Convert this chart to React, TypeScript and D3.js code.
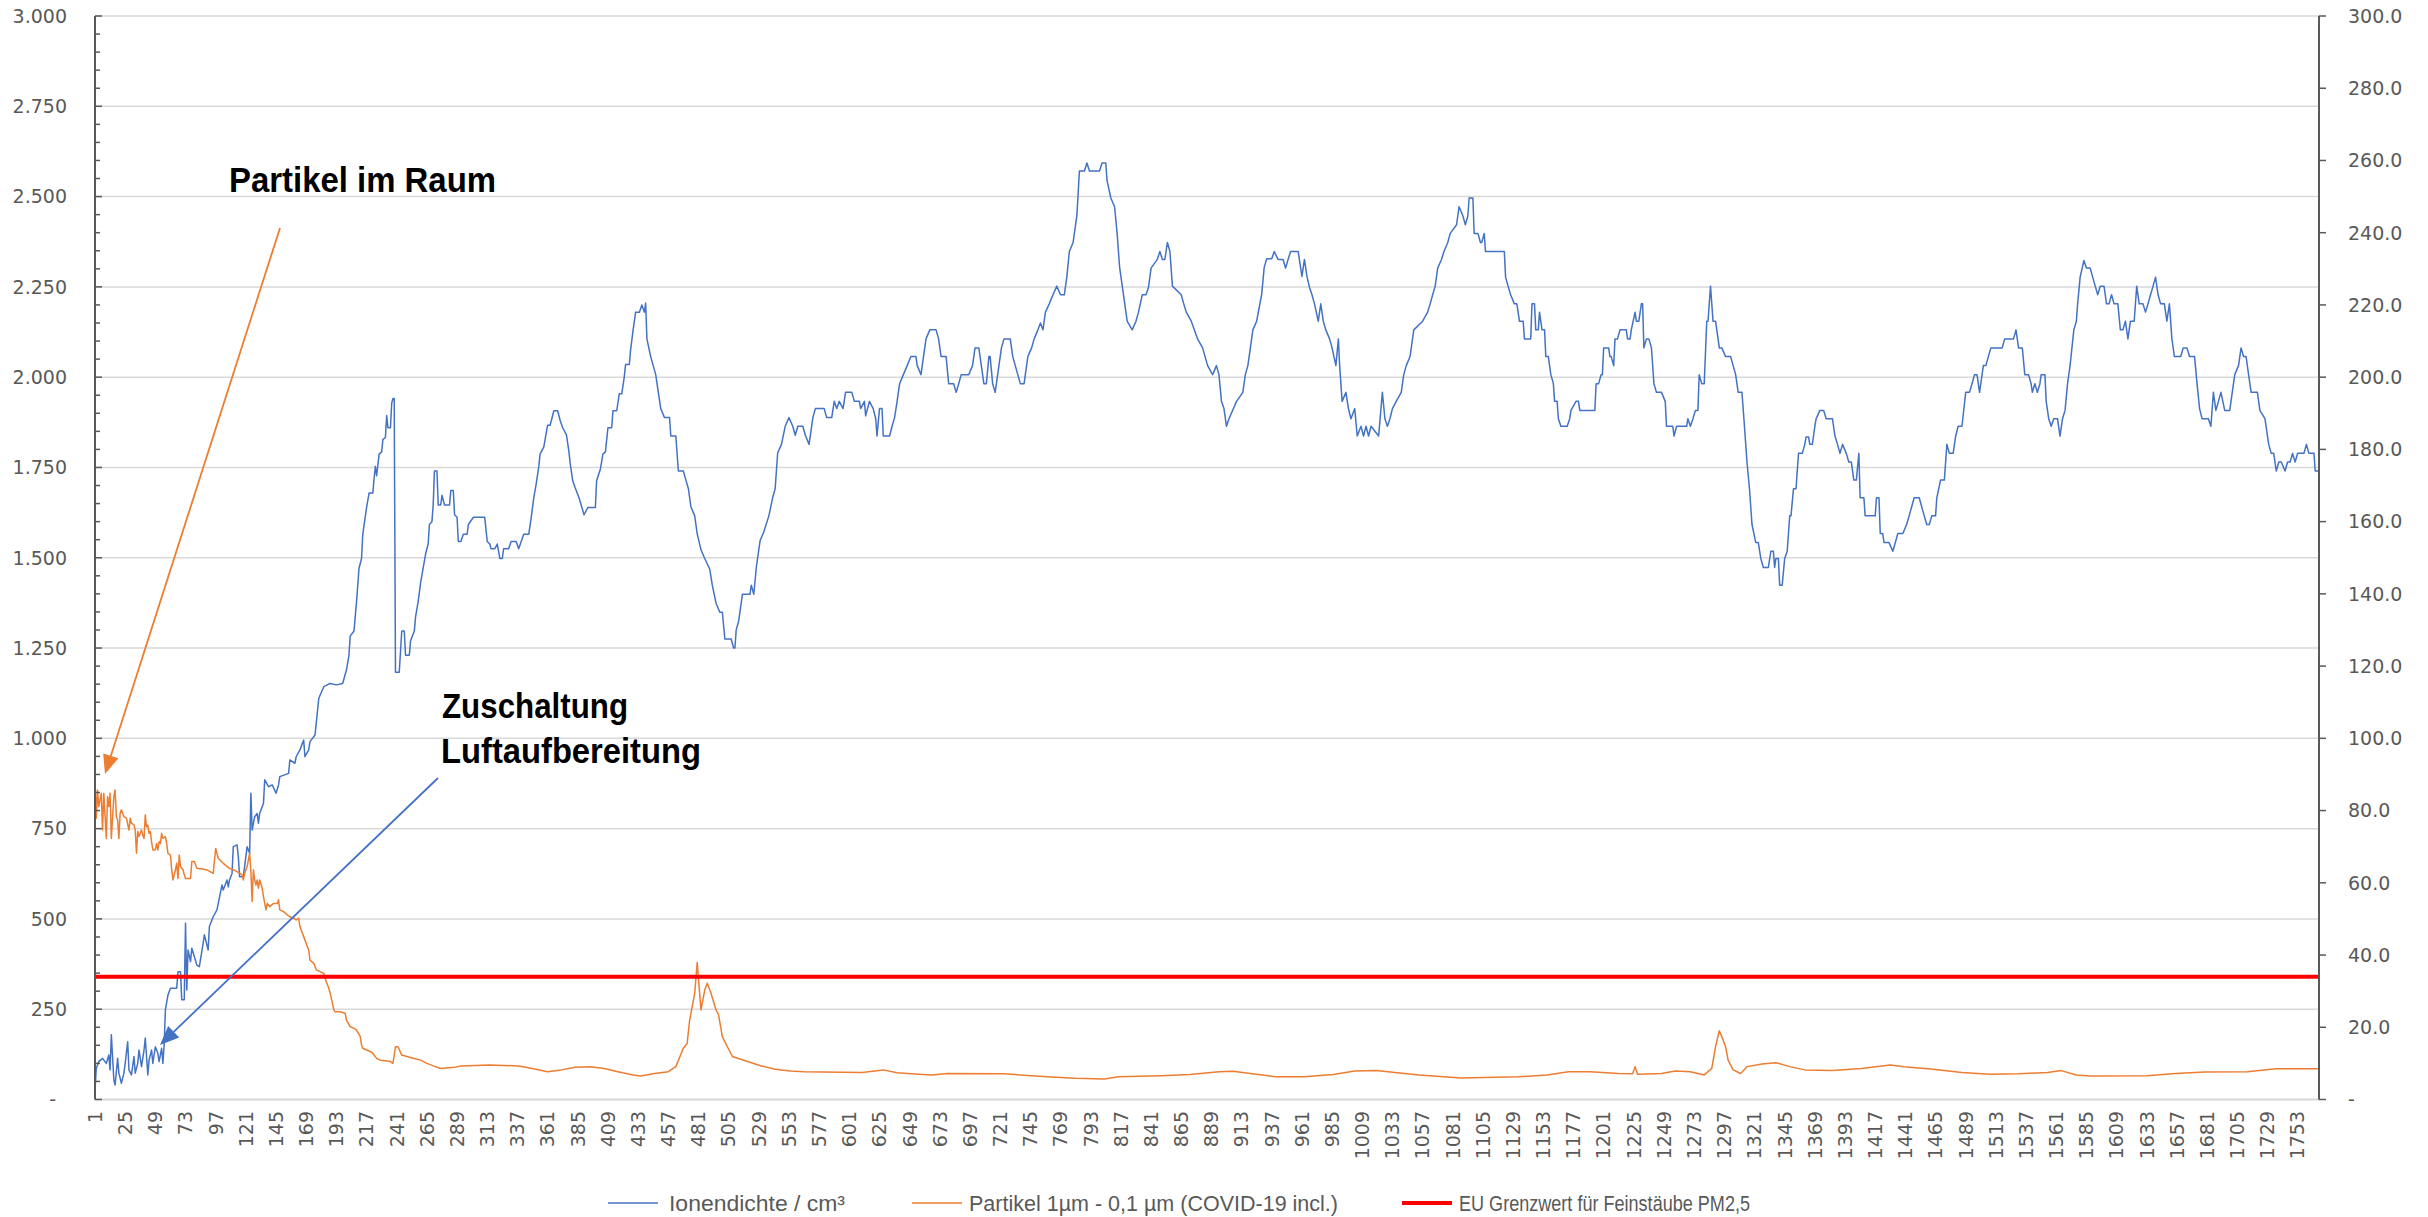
import React from 'react';
import * as d3 from 'd3';

// ---------- DATA ----------
const leftTicks = [0, 250, 500, 750, 1000, 1250, 1500, 1750, 2000, 2250, 2500, 2750, 3000];
const leftTickLabels = ['-', '250', '500', '750', '1.000', '1.250', '1.500', '1.750', '2.000', '2.250', '2.500', '2.750', '3.000'];
const rightTicks = [0, 20, 40, 60, 80, 100, 120, 140, 160, 180, 200, 220, 240, 260, 280, 300];
const rightTickLabels = ['-', '20.0', '40.0', '60.0', '80.0', '100.0', '120.0', '140.0', '160.0', '180.0', '200.0', '220.0', '240.0', '260.0', '280.0', '300.0'];
const xTickLabels = [1, 25, 49, 73, 97, 121, 145, 169, 193, 217, 241, 265, 289, 313, 337, 361, 385, 409, 433, 457, 481, 505, 529, 553, 577, 601, 625, 649, 673, 697, 721, 745, 769, 793, 817, 841, 865, 889, 913, 937, 961, 985, 1009, 1033, 1057, 1081, 1105, 1129, 1153, 1177, 1201, 1225, 1249, 1273, 1297, 1321, 1345, 1369, 1393, 1417, 1441, 1465, 1489, 1513, 1537, 1561, 1585, 1609, 1633, 1657, 1681, 1705, 1729, 1753];
const categoryCount = 1770;

// Ionendichte / cm³ (left axis) as [measurement index, value]
const ionDensity: [number, number][] = [
  [1,26],[2,86],[4,105],[7,114],[10,100],[12,123],[13,82],[14,179],[16,54],[17,40],[19,114],[20,73],[22,45],[24,73],[25,100],[27,160],[28,82],[30,68],[32,119],[33,73],[35,100],[36,137],[38,91],[40,137],[41,170],[43,68],[44,109],[46,137],[47,100],[49,146],[51,128],[52,105],[54,142],[55,100],[56,151],
  [57,248],[59,289],[61,308],[66,308],[67,354],[69,354],[70,276],[72,276],[73,488],[74,303],[75,414],[77,382],[78,419],[80,396],[82,372],[84,368],[87,432],[88,456],[91,414],[92,479],[95,506],[98,525],[102,594],[103,580],[106,608],[107,589],[108,608],[110,626],[111,700],[114,705],[115,672],[116,617],[119,617],[122,700],[124,682],[125,848],[126,746],[128,783],[130,792],[131,765],[132,792],[135,820],[136,885],[139,866],[142,871],[145,848],[147,871],[148,894],[155,903],[156,940],[160,931],[161,949],[164,968],[167,995],[168,949],[171,968],[172,991],[176,1009],[179,1111],[183,1143],[188,1152],[193,1148],[198,1152],
  [201,1189],[203,1230],[204,1283],[207,1297],[209,1377],[211,1471],[213,1498],[214,1565],[217,1639],[219,1679],[222,1679],[223,1720],[224,1753],[225,1727],[227,1787],[229,1793],[230,1827],[232,1833],[233,1894],[234,1860],[236,1860],[237,1928],[238,1941],[239,1941],[240,1183],[243,1183],[245,1297],[247,1297],[248,1230],[251,1230],[252,1270],[255,1297],[256,1337],[258,1377],[260,1431],[262,1471],[264,1511],[266,1538],[267,1592],[269,1600],[270,1646],[271,1740],[273,1740],[274,1646],[276,1646],[277,1673],[279,1646],[283,1646],[284,1686],[286,1686],[287,1619],[289,1612],[290,1545],[292,1545],[294,1565],[297,1565],[298,1592],[302,1612],[311,1612],[313,1545],[315,1538],[316,1525],[319,1525],[321,1538],[323,1498],[325,1498],[326,1525],[330,1525],[332,1545],[336,1545],[338,1525],[340,1545],[342,1565],[346,1565],[348,1612],[350,1666],[352,1706],[354,1753],[355,1787],[358,1807],[361,1867],[363,1867],[366,1907],[369,1907],[371,1880],[373,1860],[376,1840],[378,1793],[379,1760],[381,1713],[383,1693],[386,1666],[390,1619],[393,1639],[399,1639],[400,1713],[403,1746],[405,1787],[407,1793],[409,1860],[412,1860],[413,1907],[416,1907],[418,1954],[420,1954],[422,2001],[423,2035],[426,2035],[427,2075],[429,2130],[431,2180],
  [434,2180],[436,2200],[438,2180],[439,2205],[440,2106],[443,2057],[445,2032],[447,2007],[451,1913],[454,1888],[458,1888],[459,1837],[463,1837],[465,1740],[469,1740],[471,1715],[473,1691],[475,1641],[478,1616],[480,1567],[483,1522],[486,1498],[490,1468],[492,1424],[495,1374],[498,1349],[500,1349],[502,1275],[507,1275],[509,1250],[510,1250],[511,1300],[513,1325],[516,1399],[522,1399],[523,1424],[525,1399],[527,1473],[530,1547],[533,1572],[537,1616],[540,1666],[542,1691],[544,1790],[547,1814],[550,1864],[553,1888],[556,1864],[558,1839],[560,1864],[564,1864],[566,1839],[569,1814],[572,1888],[574,1913],[581,1913],[583,1888],[587,1888],[589,1933],[591,1913],[593,1933],[596,1913],[598,1958],[603,1958],[605,1933],[609,1933],[610,1913],[613,1933],[614,1893],[617,1933],[620,1913],[622,1885],[623,1837],[625,1913],[627,1913],[628,1837],[633,1837],[635,1864],[637,1888],[639,1933],[641,1982],[644,2007],[647,2032],[650,2057],[654,2057],[655,2032],[658,2007],[660,2057],[662,2106],[665,2131],[670,2131],[672,2106],[674,2057],[678,2057],[680,1982],[684,1982],[686,1958],[688,1982],[690,2007],[696,2007],[699,2032],[701,2081],[704,2081],[706,2032],[708,1982],[710,1982],[712,2057],[713,2057],[715,1982],[717,1958],[718,1982],[720,2032],[722,2081],[724,2106],[729,2106],[731,2057],[733,2032],[735,2007],[737,1982],[740,1982],[741,2007],[743,2057],[746,2081],[748,2106],[751,2131],[753,2150],[755,2131],[757,2180],[760,2203],[763,2228],[766,2252],[769,2228],[772,2228],[774,2277],[776,2348],[779,2373],[782,2447],[784,2571],[788,2571],[790,2593],[792,2571],[800,2571],[802,2593],[805,2593],[806,2544],[809,2496],[812,2472],[814,2398],[816,2304],[819,2230],[822,2155],[826,2131],[829,2155],[831,2180],[834,2228],[837,2228],[839,2249],[841,2302],[846,2326],[848,2348],[850,2326],[852,2326],[854,2373],[856,2348],[858,2252],[865,2228],[867,2203],[869,2180],[873,2155],[878,2106],[882,2081],[886,2032],[890,2007],[893,2032],[895,2007],[897,1933],[899,1913],[901,1864],[903,1885],[909,1933],[914,1958],[916,2007],[918,2032],[920,2081],[922,2131],[925,2155],[929,2230],[931,2304],[933,2328],[937,2328],[939,2348],[942,2326],[946,2326],[948,2302],[950,2326],[952,2348],[958,2348],[961,2279],[963,2326],[965,2279],[967,2249],[969,2228],[971,2203],[974,2155],[976,2203],[978,2155],[980,2131],[983,2106],[985,2081],[988,2032],[990,2106],[991,2032],[993,1933],[996,1958],[998,1913],[1000,1885],[1003,1913],[1005,1837],[1008,1864],[1010,1837],[1012,1864],[1014,1837],[1016,1864],[1022,1837],[1025,1958],[1027,1885],[1029,1864],[1031,1885],[1033,1913],[1036,1933],[1040,1958],[1042,2007],[1044,2032],[1047,2057],[1050,2131],[1057,2155],[1061,2180],[1063,2203],[1065,2228],[1067,2252],[1069,2302],[1072,2326],[1074,2348],[1077,2373],[1079,2398],[1084,2422],[1086,2472],[1089,2447],[1091,2422],[1093,2447],[1094,2496],
  [1097,2496],[1098,2398],[1101,2398],[1103,2373],[1104,2373],[1106,2398],[1107,2348],[1122,2348],[1123,2277],[1125,2252],[1127,2228],[1130,2203],[1132,2203],[1134,2155],[1137,2155],[1138,2106],[1143,2106],[1144,2203],[1146,2203],[1147,2131],[1149,2131],[1150,2180],[1152,2131],[1154,2131],[1155,2057],[1157,2057],[1159,2007],[1161,1982],[1162,1933],[1164,1933],[1165,1885],[1167,1864],[1172,1864],[1174,1885],[1175,1908],[1179,1933],[1181,1933],[1182,1908],[1194,1908],[1195,1982],[1197,1982],[1199,2007],[1200,2007],[1201,2081],[1205,2081],[1206,2057],[1207,2057],[1209,2032],[1210,2106],[1212,2106],[1214,2131],[1219,2131],[1220,2106],[1222,2106],[1223,2131],[1226,2180],[1227,2155],[1229,2155],[1231,2203],[1232,2203],[1233,2081],[1235,2106],[1237,2106],[1239,2081],[1241,1982],[1243,1958],[1247,1958],[1250,1933],[1251,1864],[1256,1864],[1257,1837],[1259,1864],[1267,1864],[1268,1885],[1270,1864],[1272,1885],[1274,1908],[1276,1908],[1277,2007],[1279,1982],[1281,1982],[1283,2155],[1284,2155],[1286,2252],[1288,2155],[1290,2155],[1291,2131],[1293,2081],[1295,2081],[1298,2057],[1302,2057],[1304,2032],[1306,2007],[1308,1958],[1311,1958],[1313,1864],[1315,1765],[1317,1691],[1319,1592],[1322,1542],[1324,1542],[1326,1498],[1328,1473],[1332,1473],[1334,1518],[1336,1518],[1337,1473],[1338,1498],[1340,1498],[1341,1424],[1343,1424],[1345,1498],[1347,1518],[1349,1616],[1350,1616],[1352,1691],[1354,1691],[1356,1789],[1359,1789],[1361,1814],[1362,1834],[1364,1834],[1365,1814],[1367,1814],[1369,1864],[1370,1885],[1373,1908],[1376,1908],[1378,1885],[1383,1885],[1385,1837],[1387,1814],[1389,1789],[1391,1814],[1394,1789],[1396,1765],[1398,1765],[1400,1715],[1402,1715],[1404,1789],[1405,1666],[1408,1666],[1409,1616],[1417,1616],[1418,1666],[1420,1666],[1421,1567],[1423,1567],[1424,1542],[1428,1542],[1431,1518],[1433,1542],[1435,1567],[1439,1567],[1442,1592],[1444,1616],[1446,1641],[1448,1666],[1452,1666],[1454,1641],[1456,1616],[1458,1592],[1460,1592],[1462,1616],[1465,1616],[1466,1666],[1469,1715],[1472,1715],[1474,1814],[1476,1789],[1479,1789],[1481,1837],[1483,1864],[1486,1864],[1489,1958],[1492,1958],[1494,1982],[1496,2007],[1498,2007],[1500,1958],[1501,1982],[1503,2032],[1505,2032],[1507,2057],[1509,2081],[1518,2081],[1520,2106],[1527,2106],[1529,2131],[1531,2081],[1534,2081],[1536,2007],[1539,2007],[1541,1982],[1542,1958],[1544,1982],[1546,1958],[1548,1982],[1549,2007],[1552,2007],[1553,1933],[1555,1885],[1557,1864],[1559,1885],[1562,1885],[1564,1837],[1566,1885],[1568,1908],[1570,1982],[1572,2032],[1575,2131],[1577,2155],[1578,2203],[1580,2277],[1583,2323],[1585,2302],[1588,2302],[1590,2277],[1592,2252],[1594,2228],[1596,2252],[1599,2252],[1601,2203],[1603,2203],[1605,2228],[1607,2203],[1610,2203],[1612,2131],[1614,2131],[1616,2155],[1618,2106],[1620,2155],[1623,2155],[1625,2252],[1627,2203],[1630,2203],[1632,2180],[1634,2203],[1636,2228],[1638,2252],[1640,2277],[1642,2228],[1644,2203],[1647,2203],[1649,2155],[1651,2203],[1653,2106],[1655,2057],[1660,2057],[1662,2081],[1665,2081],[1667,2057],[1671,2057],[1673,1982],[1675,1913],[1677,1885],[1682,1885],[1684,1864],[1686,1958],[1688,1908],[1690,1933],[1692,1958],[1695,1908],[1699,1908],[1701,1958],[1703,2007],[1706,2032],[1708,2081],[1710,2057],[1712,2057],[1714,2007],[1716,1958],[1721,1958],[1723,1908],[1727,1885],[1730,1814],[1732,1789],[1734,1789],[1736,1740],[1738,1765],[1740,1765],[1743,1740],[1745,1765],[1747,1765],[1749,1789],[1751,1765],[1753,1789],[1758,1789],[1760,1814],[1762,1789],[1766,1789],[1767,1740],[1770,1740]
];

// Partikel 1µm - 0,1 µm (right axis) as [measurement index, value]
const particles: [number, number][] = [
  [1,88.9],[2,77.9],[3,85.7],[4,81.1],[6,84.8],[7,74.6],[8,84.8],[10,72.3],[11,83.9],[12,81.1],[13,84.8],[14,72.3],[16,83.9],[17,85.7],[18,78.3],[19,77.4],[20,72.3],[21,79.2],[22,80.2],[24,78.3],[26,77.9],[28,74.6],[29,77.9],[30,76.5],[32,76],[33,74.6],[34,68.2],[35,74.2],[36,72.8],[38,74.6],[39,73.2],[40,72.3],[41,78.8],[42,75.5],[43,76],[44,73.7],[45,74.2],[46,71.4],[47,69.1],[49,69.1],[50,70.9],[51,69.1],[52,71.4],[53,70.9],[54,73.7],[55,72.3],[57,72.8],[58,70.9],[59,68.2],[61,67.7],[62,63.6],[63,60.8],[65,63.6],[66,65.4],[67,61.2],[68,67.7],[69,64.5],[71,63.6],[72,62.2],[73,61.2],[77,61.2],[78,65.9],[80,65.9],[82,64],[90,63.6],[95,62.6],[97,69.5],[99,66.8],[103,65.4],[108,64],[111,63.6],[114,63.1],[118,62.2],[119,60.8],[120,62.6],[122,64.5],[123,66.3],[124,68.2],[125,63],[126,54.8],[127,63.6],[128,60.8],[129,59.4],[130,60.8],[131,58.5],[132,60.8],[134,58.5],[135,56.2],[137,52.5],[138,54.3],[140,53.4],[143,54.3],[146,54.3],[147,55.3],[148,52.5],[151,52],[154,51.1],[156,50.6],[159,50.2],[161,49.7],[163,50.2],[164,47.9],[167,45.1],[169,43.2],[171,41.4],[172,38.6],[175,37.7],[177,35.9],[180,35.4],[183,34.9],[184,33.5],[187,30.8],[189,28],[191,24.8],[192,24.3],[196,24.3],[200,23.9],[201,22],[204,20.2],[207,19.7],[209,19.2],[212,17.4],[213,15.1],[214,14.2],[217,13.7],[220,13.3],[222,12.8],[225,11.4],[228,10.9],[232,10.7],[236,10.5],[238,10],[240,14.6],[242,14.6],[245,12.3],[249,11.9],[254,11.4],[260,10.9],[265,10],[270,9.3],[276,8.6],[287,8.9],[292,9.3],[315,9.55],[338,9.3],[349,8.6],[361,7.7],[372,8.2],[383,8.9],[395,9.1],[406,8.6],[417,7.7],[429,6.8],[435,6.5],[446,7.2],[457,7.7],[463,9.1],[469,14.2],[472,15.5],[474,22],[478,29.4],[480,37.9],[483,24.8],[486,30.3],[488,32.2],[491,29.4],[495,24.8],[497,23.4],[500,17.4],[504,14.6],[508,11.9],[520,10.5],[531,9.3],[542,8.4],[554,7.9],[565,7.7],[611,7.5],[628,8.2],[639,7.4],[656,7],[667,6.8],[679,7.2],[724,7.1],[758,6.3],[781,5.9],[804,5.7],[815,6.3],[849,6.6],[872,6.9],[895,7.7],[906,7.8],[940,6.3],[963,6.3],[986,6.9],[1003,7.9],[1020,8],[1054,6.8],[1088,5.95],[1133,6.3],[1156,6.8],[1173,7.7],[1190,7.7],[1213,7.2],[1224,7.1],[1226,9.1],[1228,7],[1247,7.2],[1258,7.9],[1270,7.7],[1281,6.8],[1287,8.6],[1290,14.6],[1293,19.05],[1296,16.5],[1298,14.6],[1300,10.9],[1304,8.2],[1310,7.2],[1315,9.1],[1327,9.8],[1338,10.2],[1349,9.1],[1361,8.2],[1383,8],[1406,8.6],[1429,9.55],[1440,9.1],[1463,8.4],[1486,7.5],[1508,7],[1531,7.1],[1554,7.5],[1565,8],[1577,6.8],[1588,6.5],[1633,6.6],[1656,7.2],[1679,7.6],[1713,7.7],[1736,8.5],[1770,8.5]
];

// EU Grenzwert (right axis)
const euLimit = 34;

const seriesNames = ['Ionendichte / cm³', 'Partikel 1µm - 0,1 µm (COVID-19 incl.)', 'EU Grenzwert für Feinstäube PM2,5'];
const seriesColors = ['#4472C4', '#ED7D31', '#FF0000'];
const annotationParticles = 'Partikel im Raum';
const annotationAir = ['Zuschaltung', 'Luftaufbereitung'];

// ---------- COMPONENT ----------
function arrowHead(sx: number, sy: number, tx: number, ty: number, len: number, half: number) {
  const dx = tx - sx, dy = ty - sy;
  const d = Math.hypot(dx, dy);
  const ux = dx / d, uy = dy / d;
  const px = -uy, py = ux;
  const bx = tx - ux * len, by = ty - uy * len;
  return {
    base: [bx, by],
    pts: `${tx},${ty} ${bx + px * half},${by + py * half} ${bx - px * half},${by - py * half}`,
  };
}

export default function App() {
  const left = 95, right = 2319, top = 16, bottom = 1099.5;
  const x = d3.scaleLinear().domain([1, categoryCount]).range([left, right]);
  const yL = d3.scaleLinear().domain([0, 3000]).range([bottom, top]);
  const yR = d3.scaleLinear().domain([0, 300]).range([bottom, top]);

  const ionLine = d3.line<[number, number]>().x(d => x(d[0])).y(d => yL(d[1]));
  const partLine = d3.line<[number, number]>().x(d => x(d[0])).y(d => yR(d[1]));

  const minorTicks = d3.range(0, 3001, 50);
  const axisFont = "'DejaVu Sans', Verdana, sans-serif";
  const labelColor = '#595959';
  const legendFont = "'Liberation Sans Narrow', 'Liberation Sans', Arial, sans-serif";

  // arrows (annotation shapes)
  const oStart = [280, 228], oTip = [105, 774];
  const bStart = [438, 778], bTip = [160, 1045];
  const oHead = arrowHead(oStart[0], oStart[1], oTip[0], oTip[1], 19, 8);
  const bHead = arrowHead(bStart[0], bStart[1], bTip[0], bTip[1], 19, 8);

  const legendItems = [
    { x0: 608, x1: 658, tx: 669, tl: 176, w: 1.5 },
    { x0: 912, x1: 962, tx: 969, tl: 369, w: 1.5 },
    { x0: 1402, x1: 1452, tx: 1459, tl: 291, w: 4 },
  ];

  return (
    <svg width={2428} height={1217} style={{ position: 'absolute', left: 0, top: 0, background: '#fff' }}>
      <rect x={0} y={0} width={2428} height={1217} fill="#fff" />
      {/* gridlines */}
      {leftTicks.slice(1).map(t => (
        <line key={'g' + t} x1={left} x2={right} y1={yL(t)} y2={yL(t)} stroke="#D9D9D9" strokeWidth={1.5} />
      ))}
      {/* bottom axis line */}
      <line x1={left} x2={right} y1={bottom} y2={bottom} stroke="#D9D9D9" strokeWidth={2} />

      {/* series */}
      <path d={ionLine(ionDensity) || ''} fill="none" stroke={seriesColors[0]} strokeWidth={1.5} strokeLinejoin="round" />
      <path d={partLine(particles) || ''} fill="none" stroke={seriesColors[1]} strokeWidth={1.5} strokeLinejoin="round" />
      <line x1={x(1)} x2={x(categoryCount)} y1={yR(euLimit)} y2={yR(euLimit)} stroke={seriesColors[2]} strokeWidth={4} />

      {/* left axis */}
      <line x1={left} x2={left} y1={top} y2={bottom} stroke="#595959" strokeWidth={2} />
      {minorTicks.map(t => (
        <line key={'m' + t} x1={left} x2={left + (t % 250 === 0 ? 7 : 5)} y1={yL(t)} y2={yL(t)} stroke="#595959" strokeWidth={1.5} />
      ))}
      {leftTicks.map((t, i) => (
        <text key={'l' + t} x={t === 0 ? 56 : 67} y={yL(t)} dy="0.36em" textAnchor="end" fontFamily={axisFont} fontSize={19} fill={labelColor}>
          {leftTickLabels[i]}
        </text>
      ))}

      {/* right axis */}
      <line x1={right} x2={right} y1={top} y2={bottom} stroke="#595959" strokeWidth={2} />
      {rightTicks.map((t, i) => (
        <g key={'r' + t}>
          <line x1={right} x2={right + 7} y1={yR(t)} y2={yR(t)} stroke="#595959" strokeWidth={1.5} />
          <text x={2348} y={yR(t)} dy="0.36em" textAnchor="start" fontFamily={axisFont} fontSize={19} fill={labelColor}>
            {rightTickLabels[i]}
          </text>
        </g>
      ))}

      {/* x axis labels */}
      {xTickLabels.map(c => (
        <text key={'x' + c} transform={`translate(${x(c)},${1111}) rotate(-90)`} dy="0.36em" textAnchor="end" fontFamily={axisFont} fontSize={19} fill={labelColor}>
          {c}
        </text>
      ))}

      {/* annotation arrows */}
      <line x1={oStart[0]} y1={oStart[1]} x2={oHead.base[0]} y2={oHead.base[1]} stroke={seriesColors[1]} strokeWidth={1.8} />
      <polygon points={oHead.pts} fill={seriesColors[1]} />
      <line x1={bStart[0]} y1={bStart[1]} x2={bHead.base[0]} y2={bHead.base[1]} stroke={seriesColors[0]} strokeWidth={1.8} />
      <polygon points={bHead.pts} fill={seriesColors[0]} />

      {/* annotation texts */}
      <text x={229} y={192} fontFamily={legendFont} fontWeight="bold" fontSize={35} fill="#000" textLength={267} lengthAdjust="spacingAndGlyphs">
        {annotationParticles}
      </text>
      <text x={442} y={718} fontFamily={legendFont} fontWeight="bold" fontSize={35} fill="#000" textLength={186} lengthAdjust="spacingAndGlyphs">
        {annotationAir[0]}
      </text>
      <text x={441} y={763} fontFamily={legendFont} fontWeight="bold" fontSize={35} fill="#000" textLength={260} lengthAdjust="spacingAndGlyphs">
        {annotationAir[1]}
      </text>

      {/* legend */}
      {legendItems.map((it, i) => (
        <g key={'lg' + i}>
          <line x1={it.x0} x2={it.x1} y1={1203} y2={1203} stroke={seriesColors[i]} strokeWidth={it.w} />
          <text x={it.tx} y={1203} dy="0.35em" fontFamily={legendFont} fontSize={22} fill={labelColor} textLength={it.tl} lengthAdjust="spacingAndGlyphs">
            {seriesNames[i]}
          </text>
        </g>
      ))}
    </svg>
  );
}
